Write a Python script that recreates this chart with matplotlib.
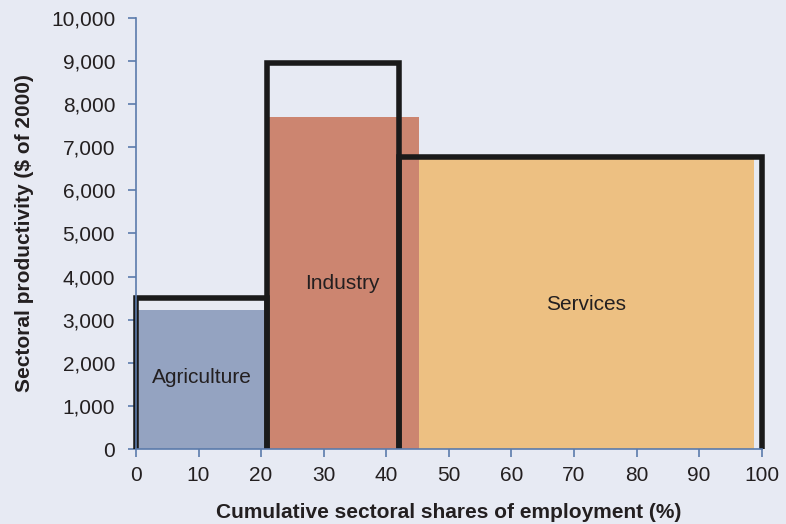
import matplotlib.pyplot as plt
from matplotlib.patches import Rectangle

plt.rcParams['font.family'] = ['Liberation Sans', 'DejaVu Sans']

# sector data
sectors = ['Agriculture', 'Industry', 'Services']
fill_left = [0, 20.8, 45.3]
fill_right = [20.8, 45.3, 98.7]
fill_height = [3220, 7700, 6720]
box_left = [0, 21, 42]
box_right = [21, 42, 100]
box_height = [3500, 8950, 6770]
label_x = [10.5, 33, 72]
label_y = [1650, 3850, 3360]
colors = ['#94a3c1', '#cc8570', '#edc082']

bg = '#e7eaf3'
axcol = '#5b7bab'

fig = plt.figure(figsize=(7.86, 5.24), dpi=100, facecolor=bg)
ax = fig.add_axes([0.173, 0.143, 0.796, 0.823], facecolor=bg)

for i in range(3):
    ax.add_patch(Rectangle((fill_left[i], 0), fill_right[i] - fill_left[i], fill_height[i],
                           facecolor=colors[i], edgecolor='none', zorder=1))
    ax.text(label_x[i], label_y[i], sectors[i], ha='center', va='center',
            fontsize=15, color='#231f20', zorder=3)

# black outline boxes (no bottom edge)
for i in range(3):
    ax.plot([box_left[i], box_left[i], box_right[i], box_right[i]],
            [0, box_height[i], box_height[i], 0],
            color='#1a1a1a', lw=4, solid_joinstyle='miter', solid_capstyle='butt',
            zorder=2, clip_on=False)

ax.set_xlim(0, 100)
ax.set_ylim(0, 10000)
ax.set_xticks(range(0, 101, 10))
ax.set_yticks(range(0, 10001, 1000))
ax.set_yticklabels([f'{v:,}' for v in range(0, 10001, 1000)])

for s in ['top', 'right']:
    ax.spines[s].set_visible(False)
for s in ['left', 'bottom']:
    ax.spines[s].set_color(axcol)
    ax.spines[s].set_linewidth(1.2)
ax.tick_params(colors=axcol, labelcolor='#231f20', labelsize=15, length=6, width=1.2)
ax.tick_params(axis='x', pad=6)
ax.tick_params(axis='y', pad=9)

ax.set_xlabel('Cumulative sectoral shares of employment (%)', fontsize=15,
              fontweight='bold', color='#231f20', labelpad=13)
ax.set_ylabel('Sectoral productivity ($ of 2000)', fontsize=15,
              fontweight='bold', color='#231f20', labelpad=12)

fig.savefig('out.png', dpi=100, facecolor=bg)
